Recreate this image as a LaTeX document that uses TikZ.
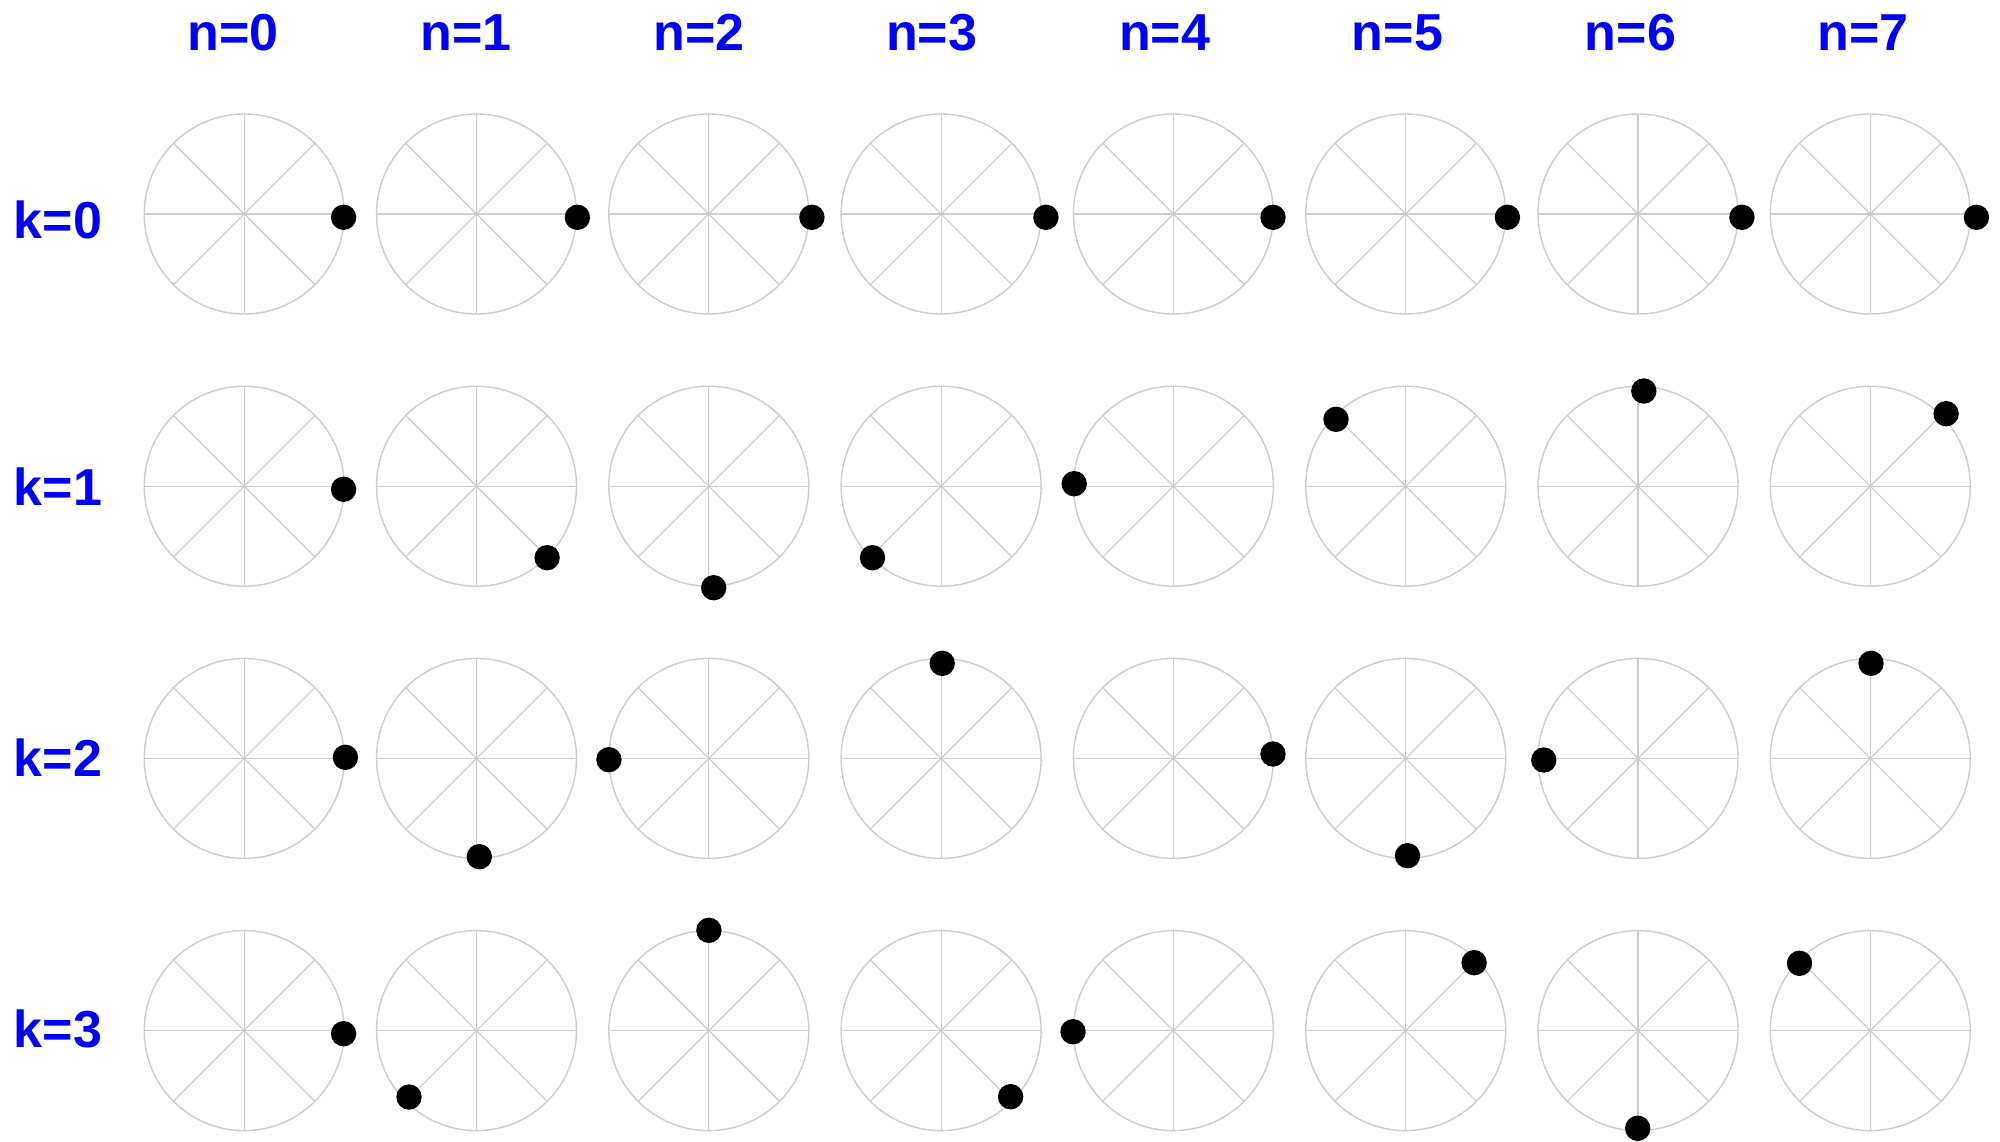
\documentclass[tikz,border=0pt]{standalone}
\usepackage{fontspec}
\setmainfont{Liberation Sans}
\definecolor{lbl}{RGB}{0,0,255}
\definecolor{wheelgray}{RGB}{204,204,204}
\begin{document}
\begin{tikzpicture}[x=0.5pt,y=-0.5pt,
  wheel/.style={circle,draw=wheelgray,line width=0.7pt,minimum size=100pt,inner sep=0pt,outer sep=0pt},
  spoke/.style={draw=wheelgray,line width=0.6pt},
  dot/.style={circle,fill=black,minimum size=12.7pt,inner sep=0pt},
  lab/.style={text=lbl,font=\fontsize{26}{30}\selectfont\bfseries,anchor=base,inner sep=0pt}]
\useasboundingbox (0,0) rectangle (2000,1141);
\foreach \k in {0,...,3}{
  \foreach \n in {0,...,7}{
    \node[wheel] (c\k\n) at ({244.2+232.3*\n},{214+272.2*\k}) {};
    \foreach \a in {0,45,...,315} \draw[spoke] (c\k\n.center) -- (c\k\n.\a);
  }
}
\foreach \k/\n/\x/\y in {
  0/0/343.6/217.3, 0/1/577.4/217.3, 0/2/811.9/217.3, 0/3/1045.9/217.3,
  0/4/1273/217.3, 0/5/1507.4/217.3, 0/6/1741.9/217.3, 0/7/1976.4/217.3,
  1/0/343.6/489.3, 1/1/547.1/557.7, 1/2/713.7/587.7, 1/3/872.5/557.7,
  1/4/1074.2/483.7, 1/5/1336/419.3, 1/6/1643.8/391, 1/7/1946.1/413.7,
  2/0/345.4/757.3, 2/1/479.3/856.7, 2/2/608.9/759.7, 2/3/942.2/663.3,
  2/4/1273/754, 2/5/1407.5/855.7, 2/6/1543.8/760, 2/7/1871/663.3,
  3/0/343.6/1033.7, 3/1/409/1097, 3/2/708.9/930.3, 3/3/1010.6/1096.7,
  3/4/1073/1031.7, 3/5/1474.1/962.7, 3/6/1637.7/1128.3, 3/7/1799.5/963.3}
  \node[dot] (d\k\n) at (\x,\y) {};
\foreach \n in {0,...,7}
  \node[lab] (n\n) at ({233+232.9*\n},50) {n=\n};
\foreach \k/\y in {0/238.7,1/505,2/776,3/1047.5}
  \node[lab] (k\k) at (58,\y) {k=\k};
\end{tikzpicture}
\end{document}
